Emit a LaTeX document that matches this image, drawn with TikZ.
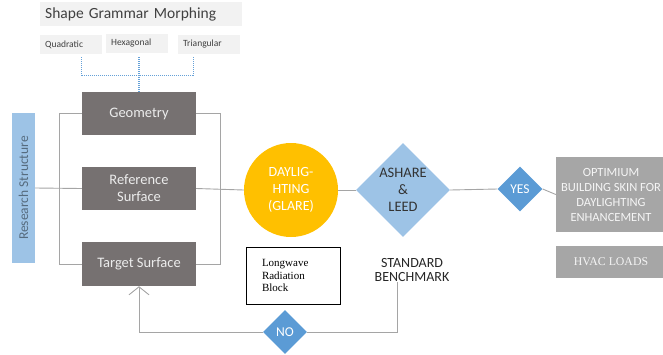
\documentclass[tikz,border=0pt]{standalone}
\usepackage{fontspec}
\setmainfont{Carlito}
\newfontfamily\timesfont{Liberation Serif}
\usetikzlibrary{arrows.meta, shapes.geometric, positioning}
\usepackage{xcolor}
\definecolor{boxgray}{HTML}{767171}
\definecolor{paleblue}{HTML}{9DC3E6}
\definecolor{midblue}{HTML}{5B9BD5}
\definecolor{gold}{HTML}{FFC000}
\definecolor{lightbox}{HTML}{A6A6A6}
\definecolor{tagfill}{HTML}{F2F2F2}
\definecolor{linegray}{HTML}{A5A5A5}

\begin{document}
\begin{tikzpicture}[x=1pt, y=-1pt,
  darkbox/.style={draw=none, fill=boxgray, text=white!85!gray, minimum width=114pt, minimum height=43pt, align=center, font=\fontsize{14.5}{17}\selectfont},
  tagbox/.style={fill=tagfill, text=black!75, text width=52pt, minimum height=19pt, inner xsep=5pt, inner ysep=0pt, align=left, font=\fontsize{9.5}{11}\selectfont},
  decision/.style={diamond, aspect=1, inner sep=0pt, align=center},
  greybox/.style={fill=lightbox, text=white!92!gray, align=center},
  link/.style={draw=linegray, line width=0.9pt},
  dotline/.style={draw=midblue!85!paleblue, dash pattern=on 1pt off 1pt, line width=1.3pt}]
  \useasboundingbox (0,0) rectangle (663,354);

  % morphing header and the three grids
  \node[fill=tagfill, text=black!75, anchor=west, text width=192pt, inner sep=5pt, minimum height=22pt, align=left, font=\fontsize{15.5}{17}\selectfont] (grammar) at (40,14) {Shape Grammar Morphing};
  \node[tagbox, anchor=west] (quad) at (40,44.5) {Quadratic};
  \node[tagbox, anchor=west] (hexa) at (106,43.5) {Hexagonal};
  \node[tagbox, anchor=west] (tria) at (178,44.5) {Triangular};

  % structure blocks
  \node[darkbox] (geometry) at (139,113.5) {Geometry};
  \node[darkbox] (refsurf) at (139,188.5) {Reference\\Surface};
  \node[darkbox, minimum height=44pt] (targetsurf) at (139,264) {Target Surface};
  \node[fill=paleblue, minimum width=23pt, minimum height=150pt, inner sep=0pt] (research) at (23.5,188) {};
  \node[rotate=90, text=black!45!paleblue, font=\fontsize{13.5}{15}\selectfont] at (research.center) {Research Structure};

  % dotted split down to geometry
  \draw[dotline] (geometry.north) -- ++(0,-16) coordinate (split);
  \draw[dotline] (split -| geometry.west) -- ([xshift=-3pt]split -| geometry.east);
  \draw[dotline] (split -| geometry.west) -- ++(0,-19);
  \draw[dotline] (split) -- ++(0,-19);
  \draw[dotline] ([xshift=-3pt]split -| geometry.east) -- ++(0,-19);

  % evaluation chain
  \node[circle, fill=gold, text=white, minimum size=94pt, inner sep=0pt, align=center, font=\fontsize{14}{17}\selectfont] (daylight) at (291,190) {DAYLIG-\\HTING\\(GLARE)};
  \node[decision, fill=paleblue, text=black!80, minimum width=94pt, minimum height=94pt, font=\fontsize{14.5}{17}\selectfont] (ashrae) at (403,190) {ASHARE\\\&\\LEED};
  \node[decision, fill=midblue, text=white, minimum width=45pt, minimum height=45pt, font=\fontsize{13.5}{15}\selectfont] (yes) at (520,189) {YES};
  \node[greybox, minimum width=110pt, minimum height=75pt, font=\fontsize{12.5}{15}\selectfont] (optimum) at (611,194.5) {OPTIMIUM\\BUILDING SKIN FOR\\DAYLIGHTING\\ENHANCEMENT};
  \node[greybox, minimum width=110pt, minimum height=32pt, font=\timesfont\fontsize{11.8}{13}\selectfont] (hvac) at (611,262) {HVAC LOADS};

  % side notes and feedback
  \node[draw=black, line width=0.8pt, minimum width=94pt, minimum height=57pt, text width=62pt, align=left, font=\timesfont\fontsize{11}{12.5}\selectfont] (longwave) at (293,275.5) {Longwave\\Radiation\\Block};
  \node[align=center, text=black!85, font=\fontsize{14}{14.5}\selectfont] (benchmark) at (412,270) {STANDARD\\BENCHMARK};
  \node[decision, fill=midblue, text=white, minimum width=44pt, minimum height=44pt, font=\fontsize{13.5}{15}\selectfont] (no) at (285,332) {NO};

  % connectors
  \draw[link] (geometry.west) -- ++(-22,0) |- (targetsurf.west);
  \draw[link] (geometry.east) -- ++(24,0) |- (targetsurf.east);
  \draw[link] (research.east) -- (refsurf.west);
  \draw[link] (refsurf.east) -- (daylight.west);
  \draw[link] (daylight.east) -- (ashrae.west);
  \draw[link] (ashrae.east) -- (yes.west);
  \draw[link] (yes.east) -- (optimum.west);
  \draw[link] ([xshift=-15pt, yshift=3pt]benchmark.south) |- (no.east);
  \draw[link, -{Straight Barb[length=8pt, width=20pt]}] (no.west) -| (targetsurf.south);
\end{tikzpicture}
\end{document}
